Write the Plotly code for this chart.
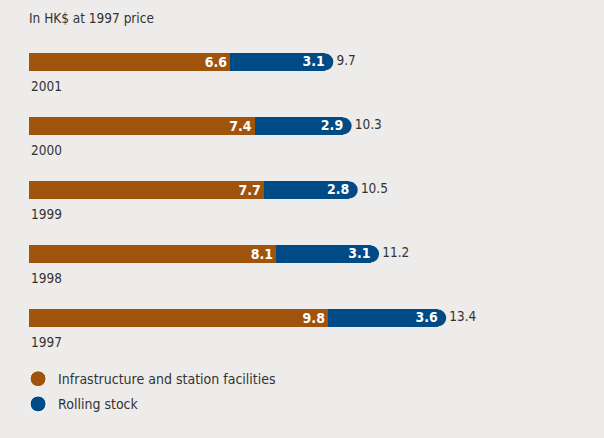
import plotly.graph_objects as go

years = ["2001", "2000", "1999", "1998", "1997"]
infra = [6.6, 7.4, 7.7, 8.1, 9.8]
rolling = [3.1, 2.9, 2.8, 3.1, 3.6]
totals = [9.7, 10.3, 10.5, 11.2, 13.4]
unit_title = "In HK$ at 1997 price"
series_names = ["Infrastructure and station facilities", "Rolling stock"]

ORANGE = "#a0530b"
BLUE = "#004b86"
BG = "#edecea"
TXT = "#333333"
FONT = "Liberation Sans Narrow, DejaVu Sans Condensed, Arial Narrow, sans-serif"

fig = go.Figure()
fig.add_trace(go.Bar(
    y=years, x=infra, orientation="h", marker=dict(color=ORANGE, line=dict(width=0)),
    text=[f"{v:.1f}" for v in infra], textposition="inside", insidetextanchor="end",
    textfont=dict(color="white", size=14, family=FONT), texttemplate="<b>%{text}</b>",
    showlegend=False, hoverinfo="skip", cliponaxis=False))
fig.add_trace(go.Bar(
    y=years, x=rolling, orientation="h", marker=dict(color=BLUE, line=dict(width=0)),
    showlegend=False, hoverinfo="skip", cliponaxis=False))
# rounded caps with total labels
fig.add_trace(go.Scatter(
    y=years, x=totals, mode="markers+text",
    marker=dict(color=BLUE, size=17, line=dict(width=0)),
    text=[f"{v:.1f}" for v in totals], textposition="middle right",
    textfont=dict(color=TXT, size=13.5, family=FONT),
    showlegend=False, hoverinfo="skip", cliponaxis=False))
# rolling stock labels, drawn above the caps
fig.add_trace(go.Scatter(
    y=years, x=totals, mode="text",
    text=[f"<b>{v:.1f}</b>" for v in rolling], textposition="middle left",
    textfont=dict(color="white", size=14, family=FONT),
    showlegend=False, hoverinfo="skip", cliponaxis=False))
# legend entries
for name, col in zip(series_names, [ORANGE, BLUE]):
    fig.add_trace(go.Scatter(x=[None], y=[None], mode="markers", name=name, legendgroup=name,
                             marker=dict(color=col, size=17, line=dict(color="white", width=1))))

for i, y in enumerate(years):
    fig.add_annotation(x=0, xref="paper", y=i, yref="y", yshift=-24, text=y, showarrow=False,
                       xanchor="left", yanchor="middle", font=dict(size=13.5, color=TXT, family=FONT))

fig.update_layout(
    width=604, height=438, paper_bgcolor=BG, plot_bgcolor=BG,
    margin=dict(l=29, r=0, t=30, b=88),
    barmode="stack", bargap=0.72,
    uniformtext=dict(minsize=14, mode="show"),
    title=dict(text=unit_title, x=29/604, xref="container", xanchor="left",
               y=1-18/438, yref="container", yanchor="middle",
               font=dict(size=13.5, color=TXT, family=FONT)),
    xaxis=dict(range=[0, 575/30.5], visible=False, fixedrange=True),
    yaxis=dict(type="category", visible=False, range=[len(years)-0.5, -0.5],
               categoryorder="array", categoryarray=years),
    legend=dict(x=-0.019, xanchor="left", y=-0.041, yanchor="top", tracegroupgap=4,
                font=dict(size=14, color=TXT, family=FONT), bgcolor="rgba(0,0,0,0)"),
    showlegend=True,
)
fig.write_html("out.html")
